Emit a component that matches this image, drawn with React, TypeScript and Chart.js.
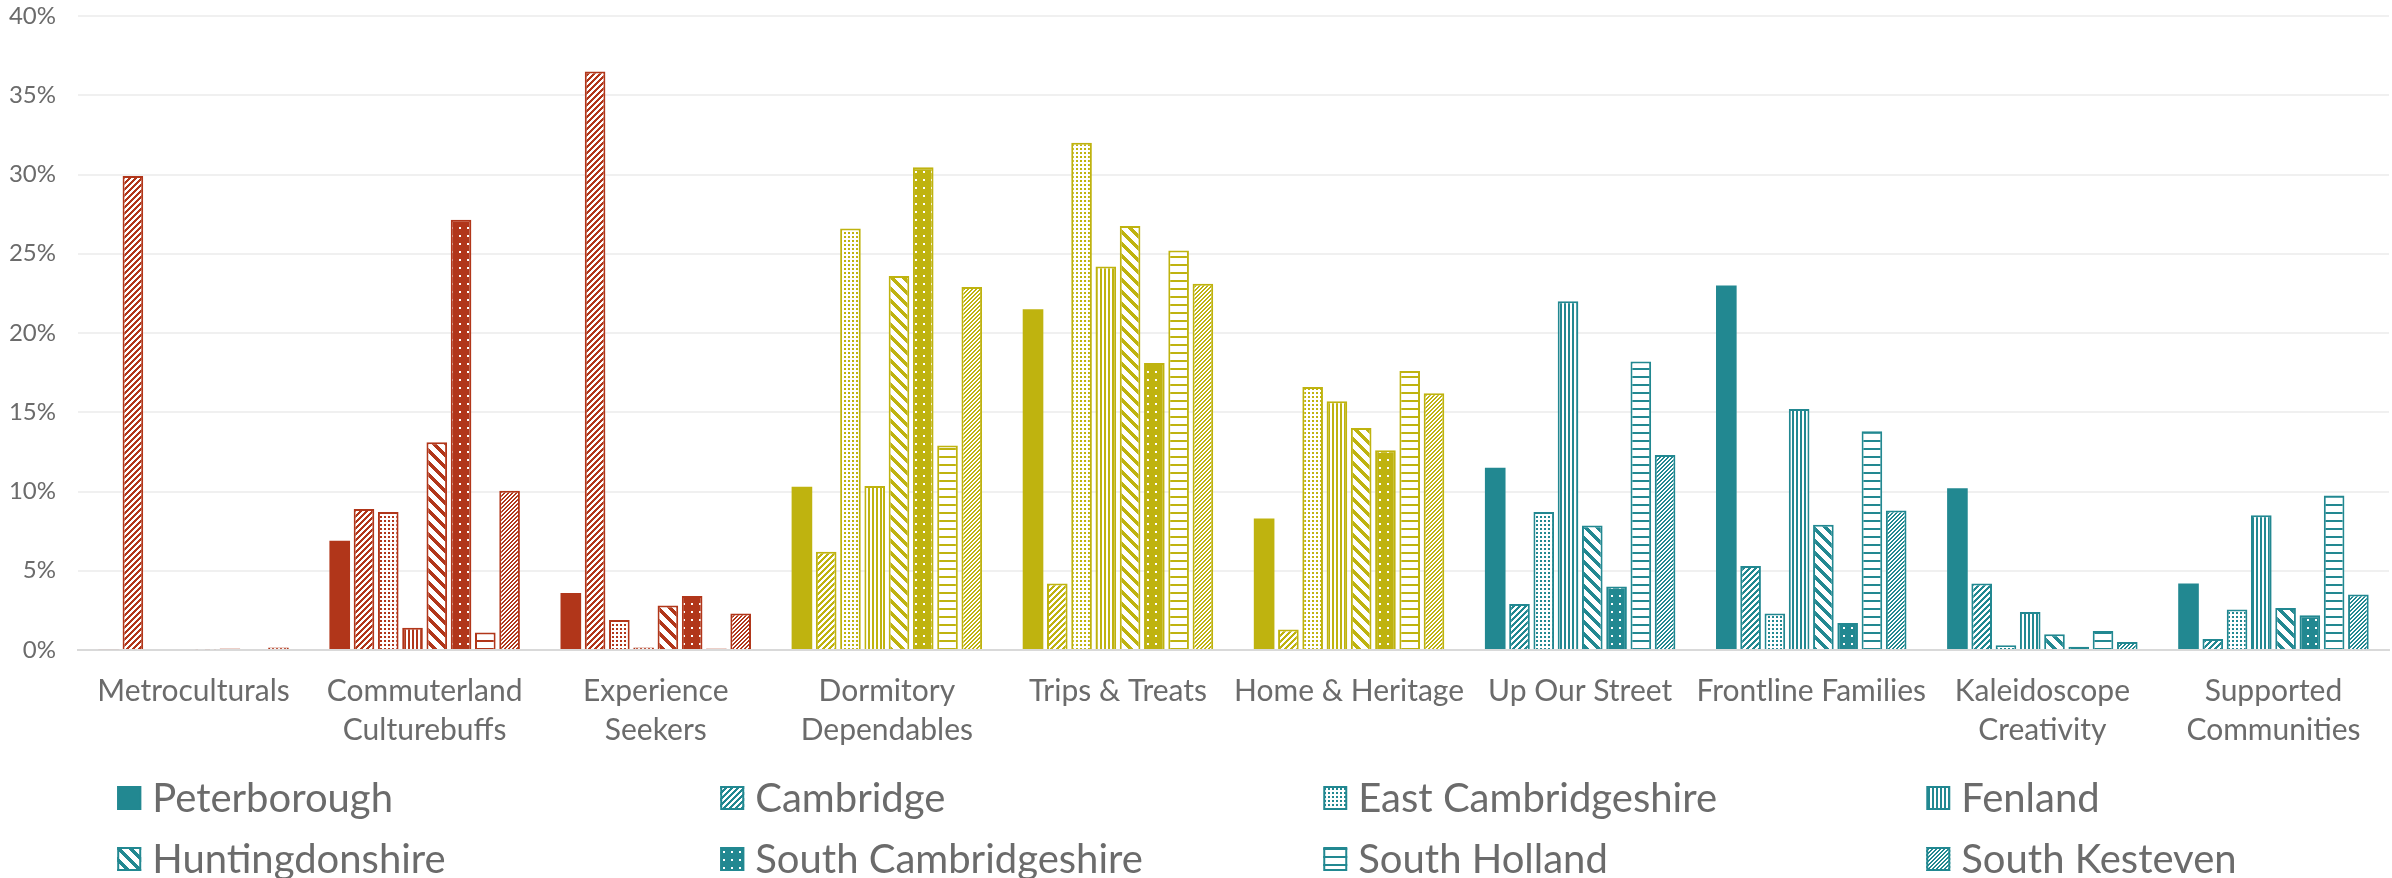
import React, { useEffect, useRef } from 'react';
import { Chart, registerables } from 'chart.js';

Chart.register(...registerables);

// ---- Data ----
const categories: string[][] = [
  ['Metroculturals'],
  ['Commuterland', 'Culturebuffs'],
  ['Experience', 'Seekers'],
  ['Dormitory', 'Dependables'],
  ['Trips & Treats'],
  ['Home & Heritage'],
  ['Up Our Street'],
  ['Frontline Families'],
  ['Kaleidoscope', 'Creativity'],
  ['Supported', 'Communities'],
];

const seriesNames = [
  'Peterborough',
  'Cambridge',
  'East Cambridgeshire',
  'Fenland',
  'Huntingdonshire',
  'South Cambridgeshire',
  'South Holland',
  'South Kesteven',
];

const peterborough = [0.06, 6.9, 3.6, 10.3, 21.5, 8.3, 11.5, 23.0, 10.2, 4.2];
const cambridge = [29.9, 8.9, 36.5, 6.2, 4.2, 1.3, 2.9, 5.3, 4.2, 0.7];
const eastCambridgeshire = [0.06, 8.7, 1.9, 26.6, 32.0, 16.6, 8.7, 2.3, 0.3, 2.55];
const fenland = [0, 1.4, 0.15, 10.35, 24.2, 15.7, 22.0, 15.2, 2.4, 8.5];
const huntingdonshire = [0.04, 13.1, 2.8, 23.6, 26.75, 14.0, 7.85, 7.9, 1.0, 2.65];
const southCambridgeshire = [0.1, 27.15, 3.4, 30.45, 18.1, 12.6, 4.0, 1.7, 0.2, 2.2];
const southHolland = [0, 1.1, 0.1, 12.9, 25.2, 17.6, 18.2, 13.8, 1.2, 9.75];
const southKesteven = [0.15, 10.05, 2.3, 22.9, 23.1, 16.2, 12.3, 8.8, 0.5, 3.5];

const seriesValues = [
  peterborough,
  cambridge,
  eastCambridgeshire,
  fenland,
  huntingdonshire,
  southCambridgeshire,
  southHolland,
  southKesteven,
];

const yTicks = [0, 5, 10, 15, 20, 25, 30, 35, 40];

// ---- Styles ----
const RED = '#B1361A';
const OLIVE = '#BFB30F';
const TEAL = '#228891';
const categoryColors = [RED, RED, RED, OLIVE, OLIVE, OLIVE, TEAL, TEAL, TEAL, TEAL];
const seriesPatterns = ['solid', 'wideUp', 'dots', 'vert', 'wideDown', 'solidDots', 'horiz', 'narrowUp'];
const TEXT = '#6b6b6b';
const FONT = 'Lato';

type Kind = string;

function makeFill(ctx: CanvasRenderingContext2D, kind: Kind, color: string): any {
  if (kind === 'solid') return color;
  const sizes: Record<string, number> = {
    wideUp: 6, dots: 4, vert: 4, wideDown: 12, solidDots: 8, horiz: 8, narrowUp: 4,
  };
  const s = sizes[kind];
  const c = document.createElement('canvas');
  c.width = s;
  c.height = s;
  const t = c.getContext('2d')!;
  const inverted = kind === 'solidDots';
  t.fillStyle = inverted ? color : '#ffffff';
  t.fillRect(0, 0, s, s);
  t.fillStyle = inverted ? '#ffffff' : color;
  for (let x = 0; x < s; x++) {
    for (let y = 0; y < s; y++) {
      let on = false;
      switch (kind) {
        case 'wideUp': on = (x + y) % 6 < 3; break;
        case 'narrowUp': on = (x + y) % 4 < 2; break;
        case 'wideDown': on = (((x - y) % 12) + 12) % 12 < 5; break;
        case 'dots': on = x % 4 < 2 && y % 4 < 2; break;
        case 'vert': on = x % 4 < 2; break;
        case 'horiz': on = y % 8 < 2; break;
        case 'solidDots': on = x >= 3 && x < 5 && y >= 3 && y < 5; break;
      }
      if (on) t.fillRect(x, y, 1, 1);
    }
  }
  return ctx.createPattern(c, 'repeat');
}

const legendPlugin = {
  id: 'gridLegend',
  afterDraw(chart: any) {
    const ctx: CanvasRenderingContext2D = chart.ctx;
    const fills: any[] = chart.$legendFills || [];
    const W = chart.width;
    const colStart = W * 0.049;
    const colW = W * 0.2521;
    ctx.save();
    seriesNames.forEach((name, i) => {
      const col = i % 4;
      const row = Math.floor(i / 4);
      const x = colStart + col * colW;
      const y = 798 + row * 61;
      const box = 24;
      ctx.fillStyle = fills[i] || TEAL;
      ctx.fillRect(x, y - box / 2, box, box);
      ctx.strokeStyle = TEAL;
      ctx.lineWidth = 2;
      ctx.strokeRect(x + 1, y - box / 2 + 1, box - 2, box - 2);
      ctx.fillStyle = TEXT;
      ctx.font = `40px ${FONT}`;
      ctx.textBaseline = 'middle';
      ctx.textAlign = 'left';
      ctx.fillText(name, x + 35, y + 1);
    });
    ctx.restore();
  },
};

export default function App() {
  const canvasRef = useRef<HTMLCanvasElement | null>(null);

  useEffect(() => {
    const canvas = canvasRef.current!;
    const ctx = canvas.getContext('2d')!;

    const datasets = seriesNames.map((name, si) => {
      const kind = seriesPatterns[si];
      const fills = categoryColors.map((c) => makeFill(ctx, kind, c));
      return {
        label: name,
        data: seriesValues[si],
        backgroundColor: fills,
        borderColor: categoryColors,
        borderWidth: kind === 'solid' ? 0 : 2,
        borderSkipped: 'start' as const,
        categoryPercentage: 0.84,
        barPercentage: 0.85,
      };
    });

    const chart: any = new Chart(ctx, {
      type: 'bar',
      data: { labels: categories as any, datasets },
      options: {
        animation: false,
        responsive: true,
        maintainAspectRatio: false,
        layout: { padding: { top: 16, right: 3, left: 0, bottom: 0 } },
        plugins: {
          legend: { display: false },
          tooltip: { enabled: false },
        },
        scales: {
          x: {
            grid: { display: false, drawTicks: false },
            border: { display: true, color: '#d9d9d9', width: 2 },
            ticks: {
              autoSkip: false,
              maxRotation: 0,
              minRotation: 0,
              padding: 22,
              color: TEXT,
              font: { family: FONT, size: 30, lineHeight: 1.3 },
            },
            afterFit(scale: any) {
              scale.height = 228;
            },
          },
          y: {
            min: 0,
            max: 40,
            afterBuildTicks(scale: any) {
              scale.ticks = yTicks.map((v) => ({ value: v }));
            },
            grid: { color: '#f0f0f0', lineWidth: 2, drawTicks: false },
            border: { display: false },
            ticks: {
              padding: 22,
              color: TEXT,
              font: { family: FONT, size: 24 },
              callback: (v: any) => `${v}%`,
            },
            afterFit(scale: any) {
              scale.width = 78;
              scale.paddingTop = 0;
              scale.paddingBottom = 0;
            },
          },
        },
      },
      plugins: [legendPlugin],
    });
    chart.$legendFills = seriesPatterns.map((k) => makeFill(ctx, k, TEAL));
    chart.draw();

    return () => chart.destroy();
  }, []);

  return (
    <div style={{ position: 'fixed', left: 0, top: 0, width: '100vw', height: '100vh', background: '#fff' }}>
      <canvas ref={canvasRef} />
    </div>
  );
}
